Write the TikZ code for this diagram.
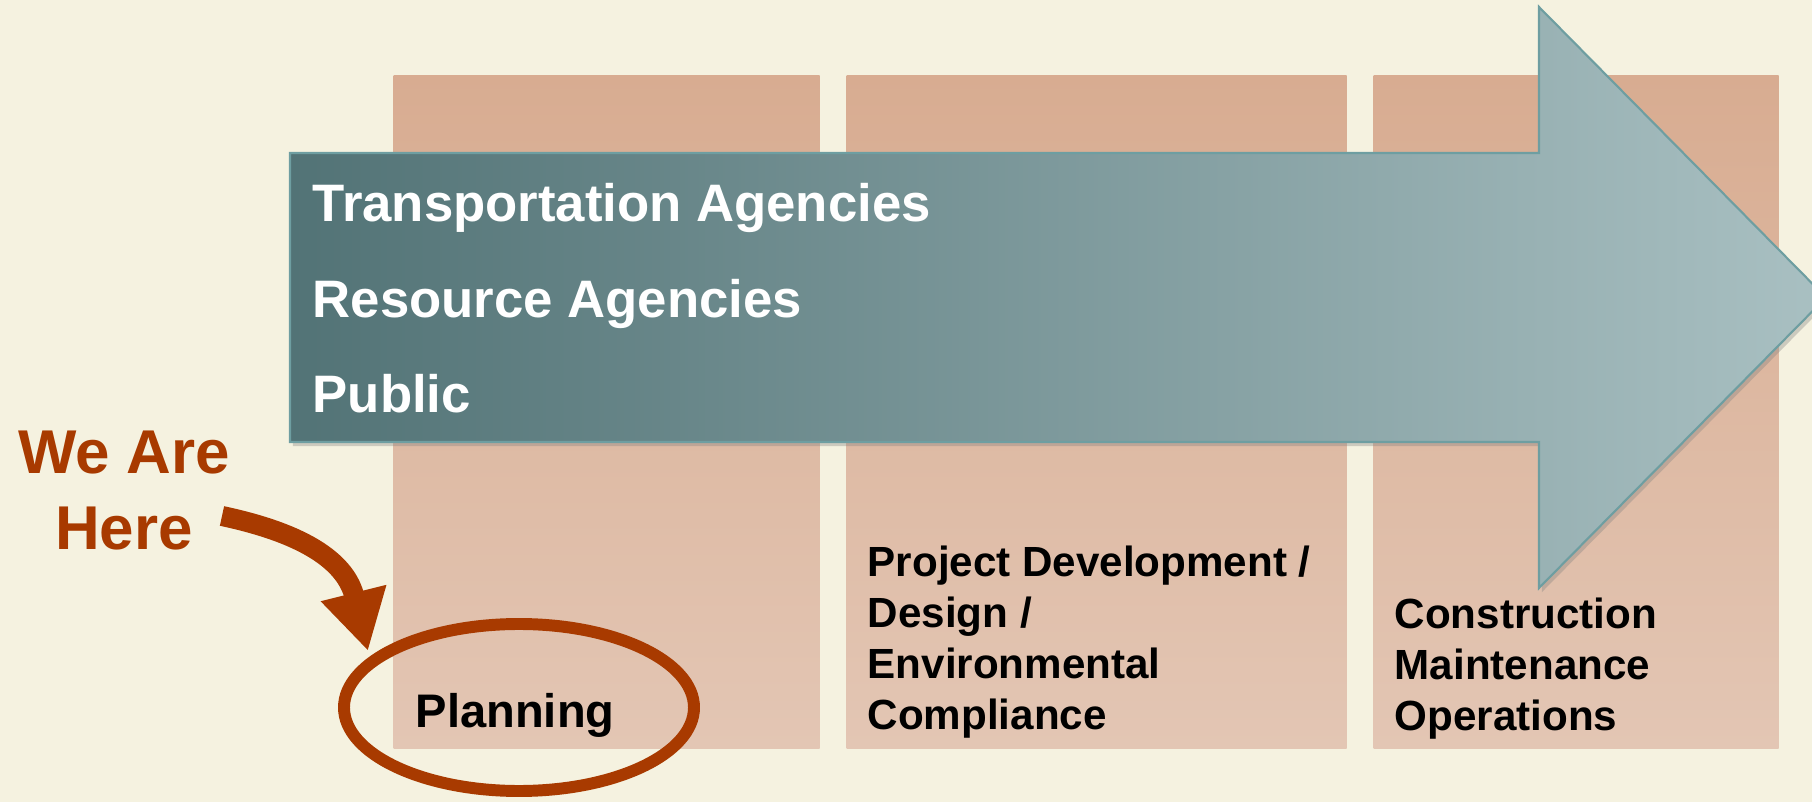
\documentclass[tikz,border=0pt]{standalone}
\usepackage{fontspec}
\setmainfont{Liberation Sans}
\usetikzlibrary{shapes.geometric,arrows.meta,shadows}
\definecolor{fondo}{HTML}{F5F2E0}
\definecolor{colarriba}{HTML}{D8AC91}
\definecolor{colabajo}{HTML}{E3C6B4}
\definecolor{flechaosc}{HTML}{527376}
\definecolor{flechaclr}{HTML}{A9C0C2}
\definecolor{flechaborde}{HTML}{6E9EA1}
\definecolor{ladrillo}{HTML}{A83A00}

\begin{document}
\begin{tikzpicture}[
        phasecol/.style={rectangle, anchor=south west, minimum height=6.73cm, inner sep=0pt, top color=colarriba, bottom color=colabajo},
        phasetext/.style={anchor=north west, align=left, inner sep=0pt, font=\bfseries\fontsize{12}{14.5}\selectfont},
        grouptext/.style={anchor=base west, inner sep=0pt, text=white, font=\bfseries\fontsize{15}{18}\selectfont},
        ringmark/.style={ellipse, draw=ladrillo, line width=3.4pt, minimum width=3.5cm, minimum height=1.67cm}
    ]

    % Fondo
    \useasboundingbox (0,0) rectangle (18.12,8.02);
    \fill[fondo] (0,0) rectangle (18.12,8.02);

    % Columnas
    \node[phasecol, minimum width=4.26cm] (plancol) at (3.93,0.53) {};
    \node[phasecol, minimum width=5.00cm] (designcol) at (8.46,0.53) {};
    \node[phasecol, minimum width=4.05cm] (buildcol) at (13.73,0.53) {};

    % Flecha
    \path[left color=flechaosc, right color=flechaclr, draw=flechaborde, line width=0.6pt,
          drop shadow={opacity=0.35, shadow xshift=0.8pt, shadow yshift=-1.2pt}]
        (2.90,6.49) -- (15.39,6.49) -- (15.39,7.95) -- (18.26,5.045)
        -- (15.39,2.14) -- (15.39,3.60) -- (2.90,3.60) -- cycle;

    % Textos de la flecha
    \node[grouptext] (transport) at (3.12,5.80) {Transportation Agencies};
    \node[grouptext] (resource) at (3.12,4.84) {Resource Agencies};
    \node[grouptext] (public) at (3.12,3.89) {Public};

    % Fases
    \node[phasetext, font=\bfseries\fontsize{13.4}{16}\selectfont] (planning) at (4.15,1.09) {Planning};
    \node[phasetext] (design) at (8.67,2.57) {Project Development /\\Design /\\Environmental\\Compliance};
    \node[phasetext] (build) at (13.94,2.05) {Construction\\Maintenance\\Operations};

    % Marca
    \node[ringmark] (planring) at (5.19,0.945) {};
    \node[align=center, text=ladrillo, inner sep=0pt, anchor=north,
          font=\bfseries\fontsize{17.6}{21.6}\selectfont] (here) at (1.24,3.72) {We Are\\Here};
    \coordinate (herefrom) at (2.22,2.86);
    \coordinate (hereto) at (3.68,1.51);
    \draw[ladrillo, line width=5.7pt, -{Triangle[width=18pt,length=17pt]}]
        (herefrom) to[out=-12,in=104,looseness=1.15] (hereto);

\end{tikzpicture}
\end{document}
